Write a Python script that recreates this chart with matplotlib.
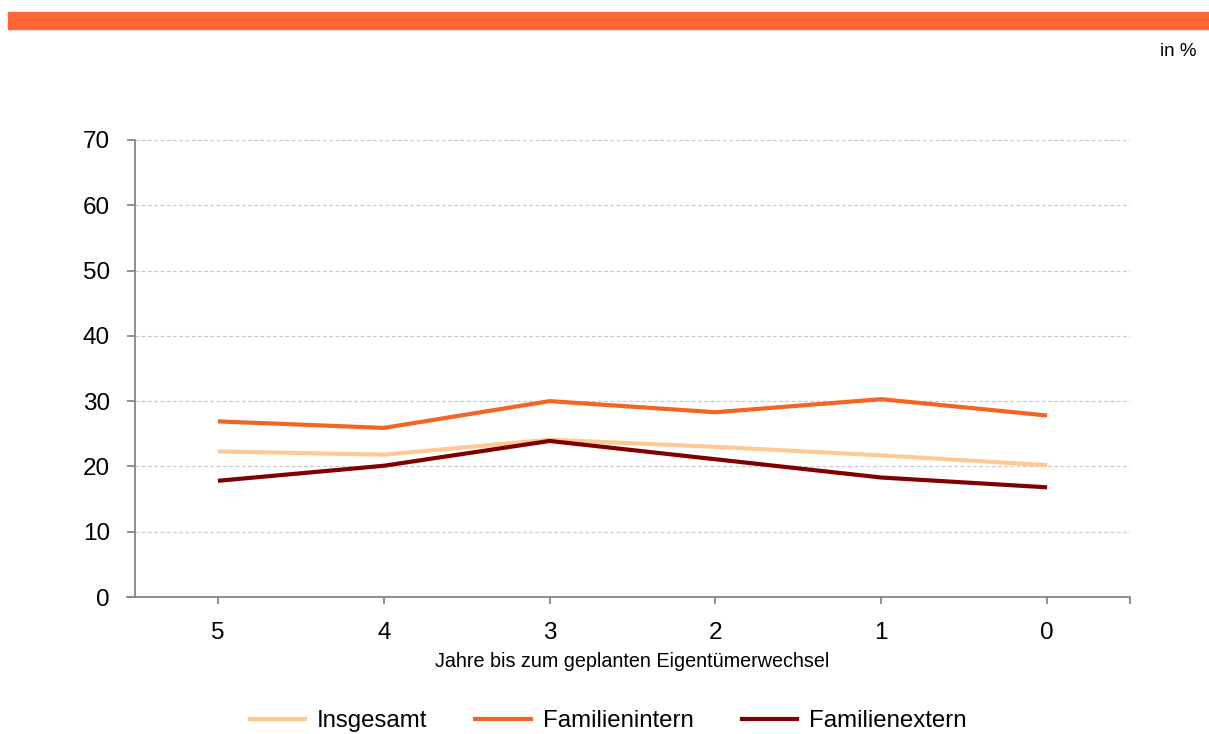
import matplotlib
matplotlib.use("Agg")
import matplotlib.pyplot as plt
from matplotlib.lines import Line2D
from matplotlib.patches import Rectangle

plt.rcParams['font.family'] = ['Liberation Sans', 'DejaVu Sans']

categories = ["5", "4", "3", "2", "1", "0"]
insgesamt = [22.3, 21.8, 24.1, 23.0, 21.7, 20.2]
familienintern = [26.9, 25.9, 30.0, 28.3, 30.3, 27.8]
familienextern = [17.8, 20.1, 23.9, 21.1, 18.3, 16.8]
series_names = ["Insgesamt", "Familienintern", "Familienextern"]
colors = ["#FFC993", "#F26522", "#800000"]
yticks = [0, 10, 20, 30, 40, 50, 60, 70]

W, H = 1209, 734
fig = plt.figure(figsize=(W / 100, H / 100), dpi=100)
fig.patch.set_facecolor("white")

# top orange bar
fig.patches.append(Rectangle((8 / W, 1 - 29 / H), 1 - 8 / W, 17 / H,
                             transform=fig.transFigure, color="#FF6633", zorder=0))
fig.text(1197 / W, 1 - 51 / H, "in %", ha="right", va="center", fontsize=13.5, color="black")

ax = fig.add_axes([135 / W, 1 - 597 / H, (1130 - 135) / W, (597 - 140) / H])
x = list(range(len(categories)))
for vals, name, c in zip([insgesamt, familienintern, familienextern], series_names, colors):
    ax.plot(x, vals, color=c, linewidth=3, label=name, solid_capstyle="butt", zorder=3)

ax.set_xlim(-0.5, len(categories) - 0.5)
ax.set_ylim(0, 70)
ax.set_yticks(yticks)
ax.set_yticklabels([str(v) for v in yticks])
ax.set_xticks(x)
ax.set_xticklabels(categories)
ax.set_xticks([len(categories) - 0.5], minor=True)

for s in ["top", "right"]:
    ax.spines[s].set_visible(False)
for s in ["left", "bottom"]:
    ax.spines[s].set_color("#868686")
    ax.spines[s].set_linewidth(1.3)

ax.tick_params(axis="y", length=6, width=1.3, color="#868686", labelsize=17.5, pad=12, labelcolor="black")
ax.tick_params(axis="x", which="both", length=5, width=1.3, color="#868686", labelsize=17.5, pad=13, labelcolor="black")

ax.grid(axis="y", linestyle=(0, (3, 2)), color="#C8C8C8", linewidth=0.9, zorder=0)
ax.set_axisbelow(True)

# small extension of the x axis to the left of the y axis
ax.add_line(Line2D([-0.008, 0], [0, 0], transform=ax.transAxes, color="#868686",
                   linewidth=1.3, clip_on=False))

ax.set_xlabel("Jahre bis zum geplanten Eigentümerwechsel", fontsize=14.2, labelpad=6)

handles = [Line2D([], [], color=c, linewidth=3) for c in colors]
fig.legend(handles, series_names, loc="center", bbox_to_anchor=(608 / W, 1 - 721 / H),
           ncol=3, frameon=False, fontsize=17.3, handlelength=2.3, handletextpad=0.5,
           columnspacing=2.0)

fig.savefig("out.png", dpi=100)
